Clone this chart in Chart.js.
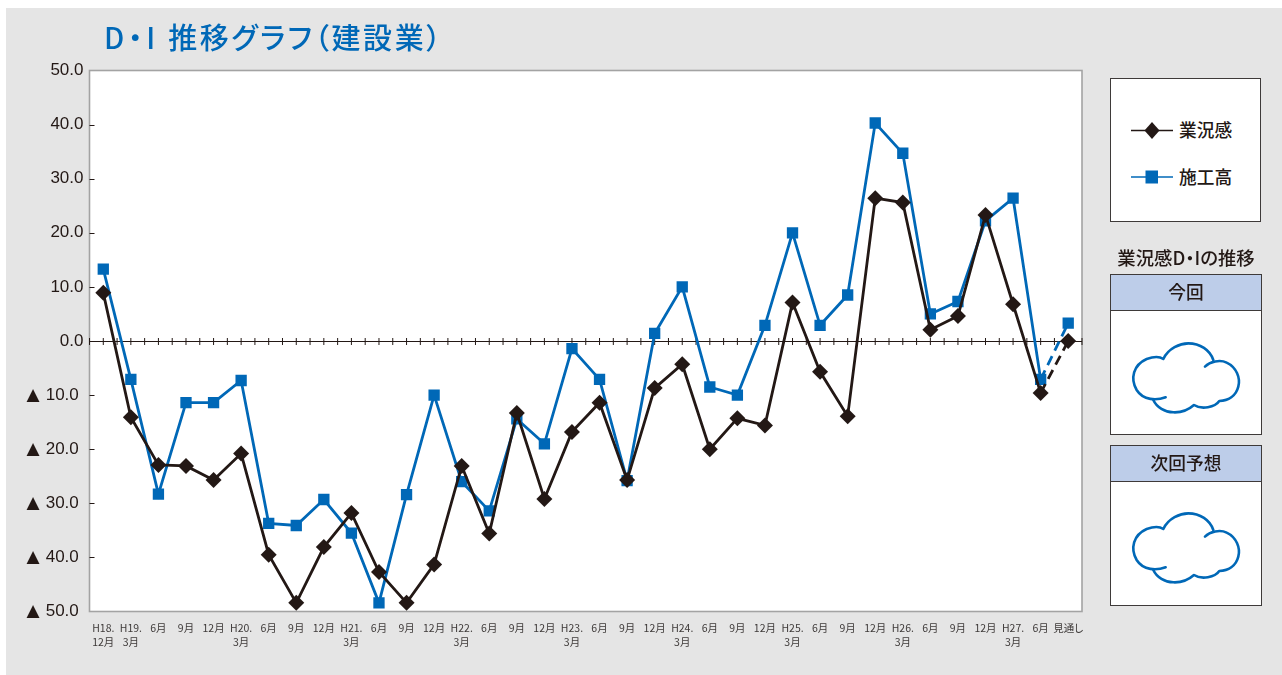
<!DOCTYPE html>
<html lang="ja">
<head>
<meta charset="utf-8">
<title>D・I推移グラフ（建設業）</title>
<script src="https://cdn.jsdelivr.net/npm/chart.js@4"></script>
<style>
  html, body { margin: 0; padding: 0; background: #fff; }
  body { width: 1282px; height: 675px; position: relative; overflow: hidden; font-family: "Noto Sans CJK JP", sans-serif; color: #231815; font-feature-settings: "palt"; }
  #panel { position: absolute; left: 6px; top: 8px; width: 1276px; height: 667px; background: #e5e5e5; }
  #chartWrap { position: absolute; left: 0; top: 0; width: 1282px; height: 675px; }
  h1 { position: absolute; left: 104px; top: 14px; margin: 0; font-size: 29px; line-height: 44px; font-weight: 500; color: #0068b7; letter-spacing: 2.55px; white-space: nowrap; }
  h1 span { letter-spacing: 3.8px; }
  .box { position: absolute; box-sizing: border-box; background: #fff; border: 1.5px solid #3e3a39; }
  .head { position: absolute; box-sizing: border-box; background: #bdcde9; border: 1.5px solid #3e3a39; text-align: center; font-size: 17.7px; line-height: 33px; font-weight: 500; }
  .caption { position: absolute; left: 1100px; width: 172px; top: 244px; text-align: center; font-size: 18.4px; line-height: 26px; font-weight: 500; white-space: nowrap; }
  .legendText { position: absolute; left: 1179px; font-size: 17.7px; line-height: 24px; font-weight: 500; white-space: nowrap; }
  svg { position: absolute; left: 0; top: 0; }
</style>
</head>
<body>
<div id="panel"></div>
<div id="chartWrap"><canvas id="diChart" width="1282" height="675"></canvas></div>
<h1><span>D・I</span> 推移グラフ（建設業）</h1>

<div class="box" style="left:1110px;top:78px;width:151px;height:144px"></div>
<div class="legendText" style="top:117px">業況感</div>
<div class="legendText" style="top:164px">施工高</div>

<div class="caption">業況感D・Iの推移</div>
<div class="head" style="left:1110px;top:274px;width:152px;height:37px">今回</div>
<div class="box" style="left:1110px;top:310px;width:152px;height:125px"></div>
<div class="head" style="left:1110px;top:445px;width:152px;height:37px">次回予想</div>
<div class="box" style="left:1110px;top:481px;width:152px;height:125px"></div>

<svg width="1282" height="675">
  <line x1="1131" y1="130.5" x2="1173" y2="130.5" stroke="#231815" stroke-width="1.6"/>
  <path d="M1152 122 L1159.5 130.5 L1152 139 L1144.5 130.5 Z" fill="#231815"/>
  <line x1="1131" y1="177" x2="1173" y2="177" stroke="#0068b7" stroke-width="1.6"/>
  <rect x="1145.5" y="170.5" width="12.5" height="13" fill="#0068b7"/>
  <defs>
    <g id="cloud" fill="none" stroke="#0068b7" stroke-width="7.8" stroke-linecap="round" stroke-linejoin="round" transform="translate(1000 0) scale(0.3333)">
      <path d="M497 382 C470 392 430 392 410 360 C390 325 400 285 440 267 C460 260 480 260 490 267 C505 235 540 220 565 220 C600 220 630 240 640 270"/>
      <path d="M615 290 C630 275 660 268 680 278 C710 292 722 325 715 350 C708 378 685 392 658 393 C645 412 605 420 582 405 C565 420 540 428 520 427 C495 427 470 412 460 390"/>
    </g>
  </defs>
  <use href="#cloud" y="270"/>
  <use href="#cloud" y="440"/>
</svg>

<script>
const categories = [
  ['H18.', '12月'], ['H19.', '3月'], '6月', '9月', '12月',
  ['H20.', '3月'], '6月', '9月', '12月',
  ['H21.', '3月'], '6月', '9月', '12月',
  ['H22.', '3月'], '6月', '9月', '12月',
  ['H23.', '3月'], '6月', '9月', '12月',
  ['H24.', '3月'], '6月', '9月', '12月',
  ['H25.', '3月'], '6月', '9月', '12月',
  ['H26.', '3月'], '6月', '9月', '12月',
  ['H27.', '3月'], '6月', '見通し'
];
const gyokyokan = [
  8.9, -14.1, -22.9, -23.1, -25.7, -20.8, -39.5, -48.4, -38.1, -31.8, -42.7, -48.4,
  -41.3, -23.1, -35.6, -13.3, -29.2, -16.8, -11.4, -25.7, -8.7, -4.3, -20.0, -14.3,
  -15.6, 7.1, -5.7, -13.9, 26.4, 25.6, 2.1, 4.6, 23.3, 6.8, -9.6, 0.0
];
const sekodaka = [
  13.3, -7.1, -28.3, -11.4, -11.4, -7.3, -33.7, -34.1, -29.3, -35.5, -48.4, -28.4,
  -10.0, -26.0, -31.4, -14.4, -19.0, -1.4, -7.1, -25.8, 1.4, 10.0, -8.5, -10.0,
  2.9, 20.0, 2.9, 8.5, 40.3, 34.7, 5.0, 7.3, 22.2, 26.4, -7.1, 3.3
];
const yTicks = [50, 40, 30, 20, 10, 0, -10, -20, -30, -40, -50];

const BLACK = '#231815';
const BLUE = '#0068b7';

// the forecast point is joined with a dashed segment
const dashLast = {
  borderDash: ctx => ctx.p1DataIndex === categories.length - 1 ? [10, 6] : undefined
};

// white plot background and grey frame
const plotFrame = {
  id: 'plotFrame',
  beforeDraw(chart) {
    const { ctx, chartArea: a } = chart;
    ctx.save();
    ctx.fillStyle = '#fff';
    ctx.fillRect(a.left, a.top, a.right - a.left, a.bottom - a.top);
    ctx.strokeStyle = '#a3a3a3';
    ctx.lineWidth = 1.6;
    ctx.strokeRect(a.left, a.top, a.right - a.left, a.bottom - a.top);
    ctx.restore();
  }
};

// zero line with tick marks, and short inward ticks on the value axis
const zeroAxis = {
  id: 'zeroAxis',
  beforeDatasetsDraw(chart) {
    const { ctx, chartArea: a, scales: { x, y } } = chart;
    const y0 = Math.round(y.getPixelForValue(0)) + 0.5;
    const step = x.getPixelForValue(1) - x.getPixelForValue(0);
    ctx.save();
    ctx.strokeStyle = BLACK;
    ctx.lineWidth = 1;
    ctx.beginPath();
    ctx.moveTo(a.left, y0);
    ctx.lineTo(a.right, y0);
    for (let i = 0; i <= categories.length * 2; i++) {
      const px = a.left + i * step / 2;
      ctx.moveTo(px, y0 - 3.5);
      ctx.lineTo(px, y0 + 3.5);
    }
    yTicks.forEach(v => {
      if (v === 50 || v === -50) return;
      const py = Math.round(y.getPixelForValue(v)) + 0.5;
      ctx.moveTo(a.left, py);
      ctx.lineTo(a.left + 5, py);
    });
    ctx.stroke();
    ctx.restore();
  }
};

// the negative mark sits in its own column left of the numbers
const negativeMarks = {
  id: 'negativeMarks',
  afterDraw(chart) {
    const { ctx, scales: { y } } = chart;
    ctx.save();
    ctx.fillStyle = BLACK;
    ctx.font = '17px "DejaVu Sans"';
    ctx.textAlign = 'center';
    ctx.textBaseline = 'middle';
    yTicks.filter(v => v < 0).forEach(v => ctx.fillText('▲', 33, y.getPixelForValue(v)));
    ctx.restore();
  }
};

new Chart(document.getElementById('diChart'), {
  type: 'line',
  data: {
    labels: categories,
    datasets: [
      {
        label: '業況感',
        data: gyokyokan,
        borderColor: BLACK,
        backgroundColor: BLACK,
        borderWidth: 2.8,
        pointStyle: 'rectRot',
        pointRadius: 8,
        pointBorderWidth: 0,
        tension: 0,
        segment: dashLast
      },
      {
        label: '施工高',
        data: sekodaka,
        borderColor: BLUE,
        backgroundColor: BLUE,
        borderWidth: 2.8,
        pointStyle: 'rect',
        pointRadius: 8,
        pointBorderWidth: 0,
        tension: 0,
        segment: dashLast
      }
    ]
  },
  options: {
    responsive: false,
    animation: false,
    layout: { padding: { left: 0, right: 200, top: 70.5, bottom: 0 } },
    plugins: { legend: { display: false }, tooltip: { enabled: false } },
    scales: {
      x: {
        offset: true,
        grid: { display: false, drawTicks: false },
        border: { display: false },
        afterFit(scale) { scale.height = 63.5; },
        ticks: {
          autoSkip: false,
          maxRotation: 0,
          minRotation: 0,
          padding: 9,
          color: '#3e3a39',
          font: { family: '"Noto Sans CJK JP"', size: 10.5, lineHeight: 1.35 }
        }
      },
      y: {
        min: -50,
        max: 50,
        grid: { display: false, drawTicks: false },
        border: { display: false },
        afterFit(scale) { scale.width = 89.5; },
        afterBuildTicks(scale) { scale.ticks = yTicks.map(value => ({ value })); },
        ticks: {
          padding: 6,
          color: BLACK,
          font: { family: '"Liberation Sans"', size: 17 },
          callback: v => Math.abs(v).toFixed(1) + (v < 0 ? '\u00a0' : '')
        }
      }
    }
  },
  plugins: [plotFrame, zeroAxis, negativeMarks]
});
</script>
</body>
</html>
